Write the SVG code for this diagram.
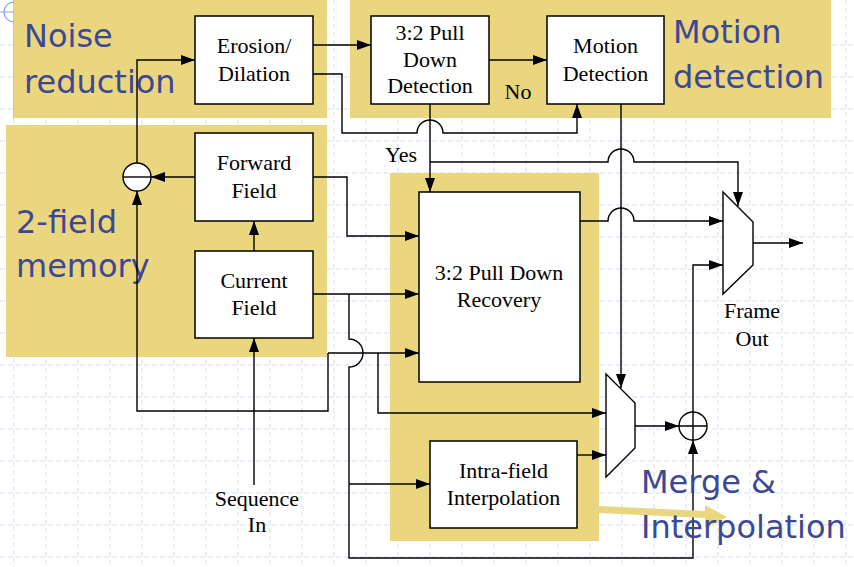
<svg xmlns="http://www.w3.org/2000/svg" width="854" height="567" viewBox="0 0 854 567">
<style>
.grid{stroke:#D6DCF6;stroke-width:1;stroke-dasharray:5 3;fill:none}
.zone{fill:#EAD67F}
.box{fill:#fff;stroke:#000;stroke-width:1.5}
.lbl{font-family:"Liberation Serif","Times New Roman",serif;font-size:22px;fill:#000;text-anchor:middle}
.big{font-family:"DejaVu Sans",Verdana,sans-serif;font-size:32px;fill:#3D4895}
.wire{fill:none;stroke:#000;stroke-width:1.4}
.arr{marker-end:url(#ah)}
</style>
<defs>
<marker id="ah" markerUnits="userSpaceOnUse" markerWidth="14" markerHeight="10" refX="14" refY="5" orient="auto">
<path d="M0 0 L14 5 L0 10 z" fill="#000"/>
</marker>
</defs>
<rect width="854" height="567" fill="#fff"/>
<path class="grid" d="M46 0V567M78 0V567M110 0V567M142 0V567M174 0V567M206 0V567M238 0V567M270 0V567M302 0V567M334 0V567M366 0V567M398 0V567M430 0V567M462 0V567M494 0V567M526 0V567M558 0V567M590 0V567M622 0V567M654 0V567M686 0V567M718 0V567M750 0V567M782 0V567M814 0V567M846 0V567M14 118V567M0 45H854M0 77H854M0 109H854M0 141H854M0 173H854M0 205H854M0 237H854M0 269H854M0 301H854M0 333H854M0 365H854M0 397H854M0 429H854M0 461H854M0 493H854M0 525H854M0 557H854"/>
<g id="decoration" fill="none" stroke="#8FA0EC" stroke-width="1.2">
<circle cx="14" cy="12" r="10"/>
<path d="M0 12H14M14 0V118"/>
</g>
<g id="zones">
<rect class="zone" x="14" y="0" width="313" height="118"/>
<rect class="zone" x="350" y="0" width="481" height="118"/>
<rect class="zone" x="6" y="125" width="321" height="232"/>
<rect class="zone" x="390" y="173" width="209" height="368"/>
</g>
<g id="zone-labels">
<text class="big" x="24" y="47">Noise</text>
<text class="big" x="24" y="93">reduction</text>
<text class="big" x="673" y="43">Motion</text>
<text class="big" x="673" y="88">detection</text>
<text class="big" x="16" y="233">2-field</text>
<text class="big" x="16" y="277">memory</text>
</g>
<g id="erosion">
<rect class="box" x="195" y="16" width="118" height="88"/>
<text class="lbl" x="254" y="53">Erosion/</text>
<text class="lbl" x="254" y="81">Dilation</text>
</g>
<g id="pulldown-detection">
<rect class="box" x="371" y="16" width="118" height="88"/>
<text class="lbl" x="430" y="40">3:2 Pull</text>
<text class="lbl" x="430" y="67">Down</text>
<text class="lbl" x="430" y="93">Detection</text>
</g>
<g id="motion-detection">
<rect class="box" x="547" y="16" width="117" height="88"/>
<text class="lbl" x="605.5" y="53">Motion</text>
<text class="lbl" x="605.5" y="81">Detection</text>
</g>
<g id="forward-field">
<rect class="box" x="195" y="133" width="118" height="88"/>
<text class="lbl" x="254" y="170">Forward</text>
<text class="lbl" x="254" y="198">Field</text>
</g>
<g id="current-field">
<rect class="box" x="195" y="251" width="118" height="87"/>
<text class="lbl" x="254" y="288">Current</text>
<text class="lbl" x="254" y="315">Field</text>
</g>
<g id="pulldown-recovery">
<rect class="box" x="419" y="192" width="161" height="190"/>
<text class="lbl" x="499" y="280">3:2 Pull Down</text>
<text class="lbl" x="499" y="307">Recovery</text>
</g>
<g id="intra-field">
<rect class="box" x="430" y="441" width="147" height="87"/>
<text class="lbl" x="503.5" y="478">Intra-field</text>
<text class="lbl" x="503.5" y="505">Interpolation</text>
</g>
<g id="subtractor">
<circle cx="137" cy="177" r="14" fill="#fff" stroke="#000" stroke-width="1.4"/>
<path d="M123 177H151" stroke="#000" stroke-width="1.4"/>
</g>
<g id="mux-out">
<path d="M723 192L753 222V265L723 294Z" fill="#fff" stroke="#000" stroke-width="1.4"/>
</g>
<g id="mux-merge">
<path d="M606 374L635 403V448L606 477Z" fill="#fff" stroke="#000" stroke-width="1.4"/>
</g>
<g id="adder">
<circle cx="693" cy="426" r="14" fill="#fff" stroke="#000" stroke-width="1.4"/>
<path d="M679 426H707M693 412V440" stroke="#000" stroke-width="1.4"/>
</g>
<g id="connectors">
<path class="wire arr" d="M137 163V60H195"/>
<path class="wire arr" d="M313 45H371"/>
<path class="wire arr" d="M313 74H342V133H417A13 13 0 0 1 443 133H577V104"/>
<path class="wire arr" d="M489 60H547"/>
<path class="wire arr" d="M430 104V192"/>
<path class="wire arr" d="M430 162H608A13 13 0 0 1 634 162H738V206"/>
<path class="wire arr" d="M621 104V388"/>
<path class="wire arr" d="M580 221H608A13 13 0 0 1 634 221H723"/>
<path class="wire arr" d="M753 243H803"/>
<path class="wire arr" d="M195 177H151"/>
<path class="wire arr" d="M313 177H347V236H419"/>
<path class="wire arr" d="M254 251V221"/>
<path class="wire arr" d="M313 294H419"/>
<path class="wire arr" d="M349 294V339A14 14 0 0 1 349 367V558H693V440"/>
<path class="wire arr" d="M349 484H430"/>
<path class="wire arr" d="M328 353H419"/>
<path class="wire arr" d="M328 353V411H137V191"/>
<path class="wire arr" d="M378 353V413H606"/>
<path class="wire arr" d="M254 485V338"/>
<path class="wire arr" d="M577 455H606"/>
<path class="wire arr" d="M635 426H679"/>
<path class="wire arr" d="M693 412V265H723"/>
</g>
<g id="connector-labels">
<text class="lbl" x="518" y="99">No</text>
<text class="lbl" x="401" y="162">Yes</text>
<text class="lbl" x="752" y="318">Frame</text>
<text class="lbl" x="752" y="346">Out</text>
<text class="lbl" x="257" y="506">Sequence</text>
<text class="lbl" x="257" y="532">In</text>
</g>
<g id="merge-pointer">
<path d="M599 506L705 511L705 505L727 517L705 528L705 518L599 513Z" fill="#EAD67F"/>
</g>
<g id="merge-label">
<text class="big" x="641" y="493">Merge &amp;</text>
<text class="big" x="641" y="538">Interpolation</text>
</g>
</svg>
